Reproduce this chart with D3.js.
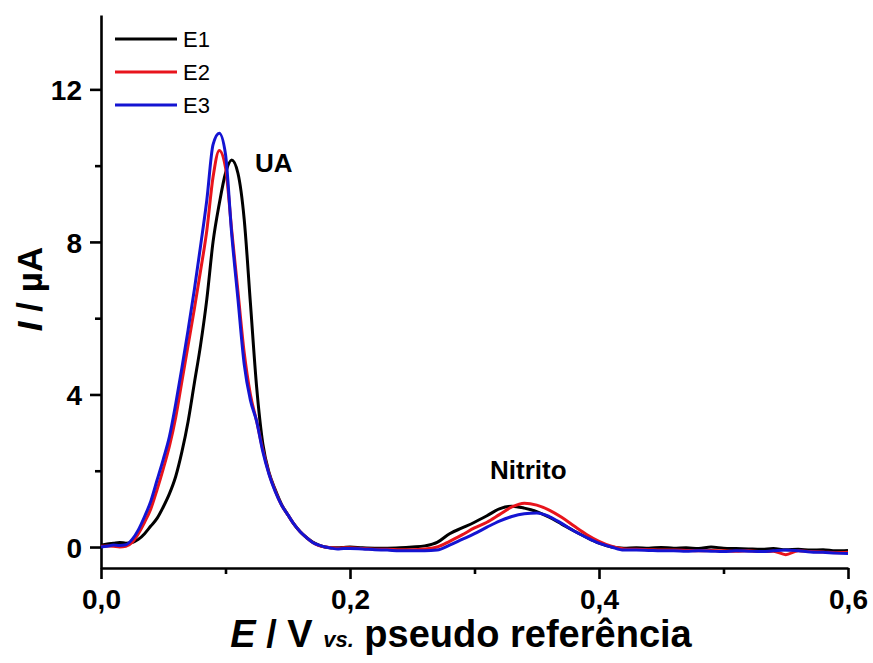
<!DOCTYPE html>
<html>
<head>
<meta charset="utf-8">
<script src="https://cdn.jsdelivr.net/npm/d3@7"></script>
<style>
  body { margin: 0; background: #fff; }
  text { font-family: "Liberation Sans", Arial, sans-serif; }
</style>
</head>
<body>
<div id="chart"></div>
<script>
// potential (V) shared by the three curves
var potential = [0, 0.005, 0.01, 0.015, 0.02, 0.025, 0.03, 0.035, 0.04, 0.045,
  0.05, 0.055, 0.06, 0.065, 0.07, 0.075, 0.08, 0.085, 0.09, 0.095,
  0.1, 0.105, 0.11, 0.115, 0.12, 0.125, 0.13, 0.135, 0.14, 0.145,
  0.15, 0.155, 0.16, 0.165, 0.17, 0.175, 0.18, 0.185, 0.19, 0.195, 0.2,
  0.21, 0.22, 0.23, 0.24, 0.25, 0.26, 0.27, 0.28, 0.29, 0.3,
  0.31, 0.32, 0.33, 0.34, 0.35, 0.36, 0.37, 0.38, 0.39, 0.4,
  0.41, 0.42, 0.43, 0.44, 0.45, 0.46, 0.47, 0.48, 0.49, 0.5,
  0.51, 0.52, 0.53, 0.54, 0.55, 0.56, 0.57, 0.58, 0.59, 0.6];

// current (uA)
var e1 = [0.05, 0.08, 0.1, 0.12, 0.1, 0.12, 0.2, 0.35, 0.55, 0.75,
  1.05, 1.4, 1.85, 2.5, 3.3, 4.3, 5.3, 6.5, 8.0, 9.0,
  9.8, 10.15, 9.8, 8.6, 6.4, 4.2, 2.7, 1.95, 1.5, 1.12,
  0.85, 0.6, 0.4, 0.25, 0.13, 0.05, 0.0, -0.02, -0.02, -0.01, 0.0,
  -0.02, -0.03, -0.03, -0.02, 0.0, 0.03, 0.12, 0.35, 0.5, 0.65,
  0.82, 1.0, 1.07, 1.02, 0.93, 0.78, 0.6, 0.42, 0.25, 0.1,
  0.0, -0.03, -0.02, -0.03, -0.01, -0.03, -0.02, -0.04, 0.0, -0.03,
  -0.04, -0.05, -0.06, -0.04, -0.07, -0.06, -0.08, -0.07, -0.1, -0.09];

var e2 = [0.02, 0.03, 0.02, 0.0, 0.02, 0.12, 0.35, 0.65, 1.0, 1.5,
  2.05, 2.65, 3.4, 4.35, 5.3, 6.25, 7.25, 8.3, 9.7, 10.4,
  9.95, 8.3, 6.7, 5.1, 4.0, 3.3, 2.55, 1.92, 1.47, 1.1,
  0.85, 0.6, 0.4, 0.25, 0.12, 0.04, 0.0, -0.02, -0.03, -0.02, -0.02,
  -0.04, -0.06, -0.06, -0.07, -0.07, -0.05, 0.0, 0.15, 0.32, 0.5,
  0.65, 0.85, 1.05, 1.15, 1.1, 0.97, 0.78, 0.55, 0.33, 0.15,
  0.02, -0.05, -0.06, -0.07, -0.08, -0.08, -0.09, -0.1, -0.09, -0.1,
  -0.11, -0.1, -0.12, -0.11, -0.2, -0.1, -0.12, -0.13, -0.15, -0.14];

var e3 = [0.0, 0.02, 0.05, 0.04, 0.06, 0.2, 0.45, 0.8, 1.2, 1.75,
  2.3, 2.9, 3.75, 4.7, 5.7, 6.75, 7.9, 9.1, 10.55, 10.85,
  10.3, 8.2, 6.5, 4.8, 3.85, 3.3, 2.5, 1.9, 1.45, 1.1,
  0.85, 0.6, 0.4, 0.25, 0.12, 0.05, 0.0, -0.03, -0.05, -0.04, -0.04,
  -0.05, -0.07, -0.08, -0.1, -0.1, -0.1, -0.08, 0.05, 0.2, 0.35,
  0.52, 0.68, 0.8, 0.87, 0.89, 0.8, 0.62, 0.42, 0.25, 0.1,
  0.0, -0.08, -0.08, -0.09, -0.1, -0.1, -0.11, -0.1, -0.11, -0.12,
  -0.1, -0.11, -0.12, -0.1, -0.08, -0.1, -0.13, -0.14, -0.16, -0.17];

var seriesNames = ["E1", "E2", "E3"];
var seriesColors = ["#000000", "#e8141c", "#1414d2"];
var xMajor = [0, 0.2, 0.4, 0.6];
var xMinor = [0.1, 0.3, 0.5];
var yMajor = [0, 4, 8, 12];
var yMinor = [2, 6, 10];

var width = 873, height = 663;

var svg = d3.select("#chart")
  .append("svg")
    .attr("width", width)
    .attr("height", height);

var x = d3.scaleLinear().domain([0, 0.6]).range([101, 848]);
var y = d3.scaleLinear().domain([-0.55, 13.95]).range([568, 15]);

var fmt = function(d){ return d3.format(".1f")(d).replace(".", ","); };

// minor ticks first
svg.append("g")
  .attr("transform", "translate(0,568)")
  .call(d3.axisBottom(x).tickValues(xMinor).tickSize(6).tickFormat(""))
  .call(function(g){ g.select(".domain").remove(); });
svg.append("g")
  .attr("transform", "translate(101,0)")
  .call(d3.axisLeft(y).tickValues(yMinor).tickSize(6).tickFormat(""))
  .call(function(g){ g.select(".domain").remove(); });

var xAxis = svg.append("g")
  .attr("transform", "translate(0,568)")
  .call(d3.axisBottom(x).tickValues(xMajor).tickSize(11).tickSizeOuter(0).tickPadding(10).tickFormat(fmt));
var yAxis = svg.append("g")
  .attr("transform", "translate(101,0)")
  .call(d3.axisLeft(y).tickValues(yMajor).tickSize(11).tickSizeOuter(0).tickPadding(8).tickFormat(d3.format("d")));

svg.selectAll(".domain, .tick line")
  .attr("stroke", "#000")
  .attr("stroke-width", 2.6);
svg.selectAll(".tick text")
  .style("font-family", "'Liberation Sans', Arial, sans-serif")
  .style("font-size", "28px")
  .style("font-weight", "bold")
  .attr("fill", "#000");
yAxis.selectAll(".tick text").attr("dy", "0.36em");

// curves
var line = d3.line()
  .x(function(d){ return x(d[0]); })
  .y(function(d){ return y(d[1]); })
  .curve(d3.curveMonotoneX);

var seriesData = [e1, e2, e3];
seriesData.forEach(function(vals, i){
  svg.append("path")
    .datum(potential.map(function(p, k){ return [p, vals[k]]; }))
    .attr("fill", "none")
    .attr("stroke", seriesColors[i])
    .attr("stroke-width", 3)
    .attr("stroke-linejoin", "round")
    .attr("d", line);
});

// legend
var legend = svg.selectAll(".legend")
  .data(seriesNames)
  .enter()
  .append("g")
    .attr("transform", function(d, i){ return "translate(0," + [39, 72, 105][i] + ")"; });
legend.append("line")
  .attr("x1", 115).attr("x2", 177)
  .attr("stroke", function(d, i){ return seriesColors[i]; })
  .attr("stroke-width", 3);
legend.append("text")
  .attr("x", 183).attr("y", 8)
  .style("font-size", "22px")
  .text(function(d){ return d; });

// peak labels
svg.append("text").attr("x", 255).attr("y", 172)
  .style("font-size", "26px").style("font-weight", "bold").text("UA");
svg.append("text").attr("x", 490).attr("y", 479)
  .style("font-size", "26px").style("font-weight", "bold").text("Nitrito");

// axis titles
var xt = svg.append("text")
  .attr("x", 461).attr("y", 647)
  .attr("text-anchor", "middle")
  .style("font-weight", "bold")
  .style("font-size", "38px");
xt.append("tspan").style("font-style", "italic").text("E");
xt.append("tspan").text(" / V ");
xt.append("tspan").style("font-style", "italic").style("font-size", "22px").text("vs.");
xt.append("tspan").text(" pseudo referência");

var yt = svg.append("text")
  .attr("transform", "translate(42,289) rotate(-90)")
  .attr("text-anchor", "middle")
  .style("font-weight", "bold")
  .style("font-size", "35px");
yt.append("tspan").style("font-style", "italic").text("I");
yt.append("tspan").text(" / µA");
</script>
</body>
</html>
